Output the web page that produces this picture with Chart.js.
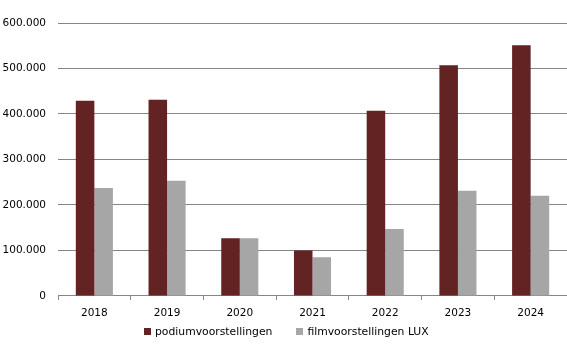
<!DOCTYPE html>
<html>
<head>
<meta charset="utf-8">
<script src="https://cdn.jsdelivr.net/npm/chart.js@4/dist/chart.umd.min.js"></script>
<style>
  html, body { margin: 0; padding: 0; background: #fff; }
  #wrap { position: relative; width: 567px; height: 351px; }
  #legenda {
    position: absolute; left: 144px; top: 325px;
    font: 10.8px "DejaVu Sans", sans-serif; color: #000;
    white-space: nowrap; line-height: 14px;
  }
  #legenda span.item { display: inline-block; margin-right: 24px; }
  #legenda i {
    display: inline-block; width: 7px; height: 7px; margin-right: 4px;
    vertical-align: 0px;
  }
</style>
</head>
<body>
<div id="wrap"><canvas id="grafiek"></canvas><div id="legenda"></div></div>
<script>
// Gegevens uit de grafiek
const jaren = ['2018', '2019', '2020', '2021', '2022', '2023', '2024'];
const podium = [429000, 431000, 127000, 100000, 407000, 507000, 551000];
const film = [237000, 253000, 127000, 85000, 147000, 231000, 220000];
const yTicks = [0, 100000, 200000, 300000, 400000, 500000, 600000];

// Getal met punt als duizendtalscheiding
function formatNL(v) {
    return String(v).replace(/\B(?=(\d{3})+(?!\d))/g, '.');
}

Chart.defaults.font.family = '"DejaVu Sans", sans-serif';
Chart.defaults.font.size = 10.5;
Chart.defaults.color = '#000';

const ctx = document.getElementById('grafiek').getContext('2d');
const grafiek = new Chart(ctx, {
    type: 'bar',
    data: {
        labels: jaren,
        datasets: [{
            label: 'podiumvoorstellingen',
            data: podium,
            backgroundColor: '#632323',
            categoryPercentage: 0.51,
            barPercentage: 1
        }, {
            label: 'filmvoorstellingen LUX',
            data: film,
            backgroundColor: '#a6a6a6',
            categoryPercentage: 0.51,
            barPercentage: 1
        }]
    },
    options: {
        responsive: true,
        maintainAspectRatio: false,
        animation: false,
        layout: { padding: { top: 23, right: 0, left: 0, bottom: 24.5 } },
        plugins: {
            tooltip: { enabled: false },
            legend: { display: false }
        },
        scales: {
            x: {
                grid: {
                    drawOnChartArea: false,
                    drawTicks: true,
                    tickLength: 4,
                    color: '#868686'
                },
                border: { color: '#868686' },
                ticks: { padding: 7 }
            },
            y: {
                min: 0,
                max: 600000,
                afterBuildTicks: (axis) => { axis.ticks = yTicks.map(v => ({ value: v })); },
                afterFit: (axis) => { axis.width = 58; },
                grid: { color: '#868686', drawTicks: false },
                border: { display: false },
                ticks: {
                    padding: 12,
                    callback: (v) => formatNL(v)
                }
            }
        }
    }
});

// Legenda opbouwen uit de datasets
const legenda = document.getElementById('legenda');
grafiek.data.datasets.forEach(ds => {
    const item = document.createElement('span');
    item.className = 'item';
    const blokje = document.createElement('i');
    blokje.style.background = ds.backgroundColor;
    item.appendChild(blokje);
    item.appendChild(document.createTextNode(ds.label));
    legenda.appendChild(item);
});
</script>
</body>
</html>
